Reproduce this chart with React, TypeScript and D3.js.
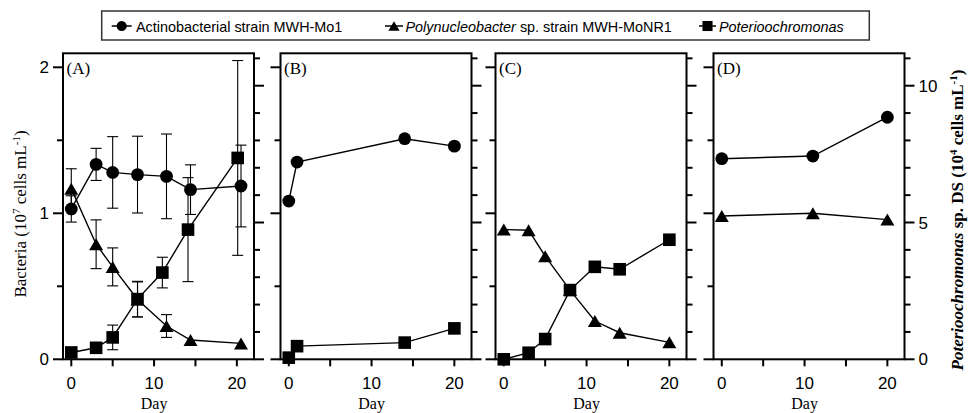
import React from "react";
import * as d3 from "d3";

// ---------------- data ----------------
// Panel A
const actinoADays = [0, 3, 5, 8, 11.5, 14.4, 20.5];
const actinoA = [1.03, 1.335, 1.28, 1.265, 1.253, 1.162, 1.187];
const actinoAErr = [0.09, 0.11, 0.245, 0.263, 0.29, 0.17, 0.28];
const polyADays = [0, 3, 5, 8, 11.5, 14.4, 20.5];
const polyA = [1.169, 0.788, 0.633, 0.41, 0.228, 0.132, 0.109];
const polyAErr = [0.136, 0.167, 0.13, 0.12, 0.078, 0, 0];
const poterioADays = [0, 3, 5, 8, 11, 14.1, 20.1];
const poterioA = [0.25, 0.42, 0.8, 2.2, 3.17, 4.74, 7.36];
const poterioAErr = [0, 0, 0.45, 0.65, 0.56, 1.9, 3.56];
// Panel B
const actinoBDays = [0, 1, 14, 20];
const actinoB = [1.084, 1.351, 1.511, 1.46];
const poterioBDays = [0, 1, 14, 20];
const poterioB = [0.06, 0.48, 0.61, 1.13];
// Panel C
const polyCDays = [0, 3, 5, 8, 11, 14, 20];
const polyC = [0.889, 0.884, 0.706, 0.474, 0.262, 0.182, 0.116];
const poterioCDays = [0, 3, 5, 8, 11, 14, 20];
const poterioC = [0, 0.24, 0.74, 2.53, 3.38, 3.29, 4.37];
// Panel D
const actinoDDays = [0, 11, 20];
const actinoD = [1.374, 1.392, 1.658];
const polyDDays = [0, 11, 20];
const polyD = [0.982, 1.0, 0.957];

const panelLabels = ["(A)", "(B)", "(C)", "(D)"];
const dayTicks = [0, 5, 10, 15, 20];
const dayTickLabels = [0, 10, 20];
const bacteriaTicks = [0, 0.5, 1, 1.5, 2];
const bacteriaTickLabels = [0, 1, 2];
const poterioTicks = [0, 1, 2, 3, 4, 5, 6, 7, 8, 9, 10, 11];
const poterioTickLabels = [0, 5, 10];
const legendNames = ["Actinobacterial strain MWH-Mo1", "Polynucleobacter", "Poterioochromonas"];

// ---------------- layout ----------------
const W = 970;
const H = 413;
const boxLefts = [63, 280.5, 495.5, 713.5];
const boxW = 191;
const boxTop = 53.3;
const boxBottom = 359.3;

const yBac = d3.scaleLinear().domain([0, 2]).range([boxBottom, 67.3]);
const yPot = d3.scaleLinear().domain([0, 10]).range([boxBottom, 85.7]);

type Series = {
  days: number[];
  vals: number[];
  err?: number[];
  shape: "circle" | "triangle" | "square";
  axis: "bac" | "pot";
};

const panels: Series[][] = [
  [
    { days: actinoADays, vals: actinoA, err: actinoAErr, shape: "circle", axis: "bac" },
    { days: polyADays, vals: polyA, err: polyAErr, shape: "triangle", axis: "bac" },
    { days: poterioADays, vals: poterioA, err: poterioAErr, shape: "square", axis: "pot" },
  ],
  [
    { days: actinoBDays, vals: actinoB, shape: "circle", axis: "bac" },
    { days: poterioBDays, vals: poterioB, shape: "square", axis: "pot" },
  ],
  [
    { days: polyCDays, vals: polyC, shape: "triangle", axis: "bac" },
    { days: poterioCDays, vals: poterioC, shape: "square", axis: "pot" },
  ],
  [
    { days: actinoDDays, vals: actinoD, shape: "circle", axis: "bac" },
    { days: polyDDays, vals: polyD, shape: "triangle", axis: "bac" },
  ],
];

const SANS = "'Liberation Sans', Arial, Helvetica, sans-serif";
const SERIF = "'Liberation Serif', 'Times New Roman', Times, serif";

function Marker({ shape, x, y, s = 1 }: { shape: string; x: number; y: number; s?: number }) {
  if (shape === "circle") return <circle cx={x} cy={y} r={6.4 * s} fill="#000" />;
  if (shape === "square") {
    const h = 6.3 * s;
    return <rect x={x - h} y={y - h} width={2 * h} height={2 * h} fill="#000" />;
  }
  const hw = 7 * s;
  const hh = 6 * s;
  return <path d={`M${x},${y - hh}L${x + hw},${y + hh}L${x - hw},${y + hh}Z`} fill="#000" />;
}

function Panel({ idx }: { idx: number }) {
  const left = boxLefts[idx];
  const x = d3.scaleLinear().domain([-1, 22.07]).range([left, left + boxW]);
  const right = left + boxW;
  const series = panels[idx];
  const line = d3
    .line<[number, number]>()
    .x((d) => d[0])
    .y((d) => d[1]);
  return (
    <g>
      {bacteriaTicks.map((t) => {
        const major = t % 1 === 0;
        return (
          <line key={"l" + t} x1={left - (major ? 10 : 6)} x2={left} y1={yBac(t)} y2={yBac(t)} stroke="#000" strokeWidth={2} />
        );
      })}
      {poterioTicks.map((t) => {
        const major = t % 5 === 0;
        return (
          <line key={"r" + t} x1={right} x2={right + (major ? 10 : 6)} y1={yPot(t)} y2={yPot(t)} stroke="#000" strokeWidth={2} />
        );
      })}
      {dayTicks.map((t) => (
        <line key={"b" + t} x1={x(t)} x2={x(t)} y1={boxBottom} y2={boxBottom + 7} stroke="#000" strokeWidth={2} />
      ))}
      {dayTickLabels.map((t) => (
        <text key={"bl" + t} x={x(t)} y={389} textAnchor="middle" fontFamily={SANS} fontSize={17}>
          {t}
        </text>
      ))}
      <text x={x(10)} y={408.5} textAnchor="middle" fontFamily={SERIF} fontSize={16}>
        Day
      </text>
      {idx === 0 &&
        bacteriaTickLabels.map((t) => (
          <text key={"yl" + t} x={49} y={yBac(t)} dy="0.36em" textAnchor="end" fontFamily={SANS} fontSize={17}>
            {t}
          </text>
        ))}
      {idx === 3 &&
        poterioTickLabels.map((t) => (
          <text key={"yr" + t} x={right + 14} y={yPot(t)} dy="0.36em" textAnchor="start" fontFamily={SANS} fontSize={17}>
            {t}
          </text>
        ))}
      <rect x={left} y={boxTop} width={boxW} height={boxBottom - boxTop} fill="none" stroke="#000" strokeWidth={2} />
      <text x={left + 3.5} y={73.5} fontFamily={SERIF} fontSize={17}>
        {panelLabels[idx]}
      </text>
      {series.map((s, si) => {
        const ys = s.axis === "bac" ? yBac : yPot;
        const pts: [number, number][] = s.days.map((d, i) => [x(d), ys(s.vals[i])]);
        return (
          <g key={si}>
            {s.err &&
              s.err.map((e, i) =>
                e > 0 ? (
                  <g key={"e" + i} stroke="#000" strokeWidth={1.1}>
                    <line x1={pts[i][0]} x2={pts[i][0]} y1={ys(s.vals[i] - e)} y2={ys(s.vals[i] + e)} />
                    <line x1={pts[i][0] - 5.5} x2={pts[i][0] + 5.5} y1={ys(s.vals[i] - e)} y2={ys(s.vals[i] - e)} />
                    <line x1={pts[i][0] - 5.5} x2={pts[i][0] + 5.5} y1={ys(s.vals[i] + e)} y2={ys(s.vals[i] + e)} />
                  </g>
                ) : null
              )}
            <path d={line(pts) || ""} fill="none" stroke="#000" strokeWidth={1.4} />
            {pts.map((p, i) => (
              <Marker key={i} shape={s.shape} x={p[0]} y={p[1]} />
            ))}
          </g>
        );
      })}
    </g>
  );
}

function Legend() {
  const fs = 14.4;
  const cy = 26;
  return (
    <g>
      <rect x={101.7} y={11} width={767.6} height={29} fill="#fff" stroke="#333" strokeWidth={1.5} />
      <line x1={111.7} x2={131.7} y1={cy} y2={cy} stroke="#000" strokeWidth={1.5} />
      <Marker shape="circle" x={121.7} y={cy} s={0.8} />
      <text x={136} y={31.5} fontFamily={SANS} fontSize={fs}>
        {legendNames[0]}
      </text>
      <line x1={385} x2={403} y1={cy} y2={cy} stroke="#000" strokeWidth={1.5} />
      <Marker shape="triangle" x={394} y={cy} s={0.8} />
      <text x={405.5} y={31.5} fontFamily={SANS} fontSize={fs}>
        <tspan fontStyle="italic">{legendNames[1]}</tspan>
        <tspan> sp. strain MWH-MoNR1</tspan>
      </text>
      <line x1={699} x2={716} y1={cy} y2={cy} stroke="#000" strokeWidth={1.5} />
      <Marker shape="square" x={707.5} y={cy} s={0.8} />
      <text x={719} y={31.5} fontFamily={SANS} fontSize={fs} fontStyle="italic">
        {legendNames[2]}
      </text>
    </g>
  );
}

export default function App() {
  return (
    <svg
      width={W}
      height={H}
      viewBox={`0 0 ${W} ${H}`}
      style={{ position: "absolute", left: 0, top: 0, background: "#fff" }}
    >
      <rect width={W} height={H} fill="#fff" />
      <Legend />
      {[0, 1, 2, 3].map((i) => (
        <Panel key={i} idx={i} />
      ))}
      <text
        transform="translate(26,214) rotate(-90)"
        textAnchor="middle"
        fontFamily={SERIF}
        fontSize={17}
      >
        Bacteria (10
        <tspan dy="-6" fontSize={11}>7</tspan>
        <tspan dy="6"> cells mL</tspan>
        <tspan dy="-6" fontSize={11}>-1</tspan>
        <tspan dy="6">)</tspan>
      </text>
      <text
        transform="translate(963,220) rotate(-90)"
        textAnchor="middle"
        fontFamily={SERIF}
        fontSize={17}
        fontWeight="bold"
      >
        <tspan fontStyle="italic">Poterioochromonas</tspan>
        <tspan> sp. DS (10</tspan>
        <tspan dy="-6" fontSize={11}>4</tspan>
        <tspan dy="6"> cells mL</tspan>
        <tspan dy="-6" fontSize={11}>-1</tspan>
        <tspan dy="6">)</tspan>
      </text>
    </svg>
  );
}
